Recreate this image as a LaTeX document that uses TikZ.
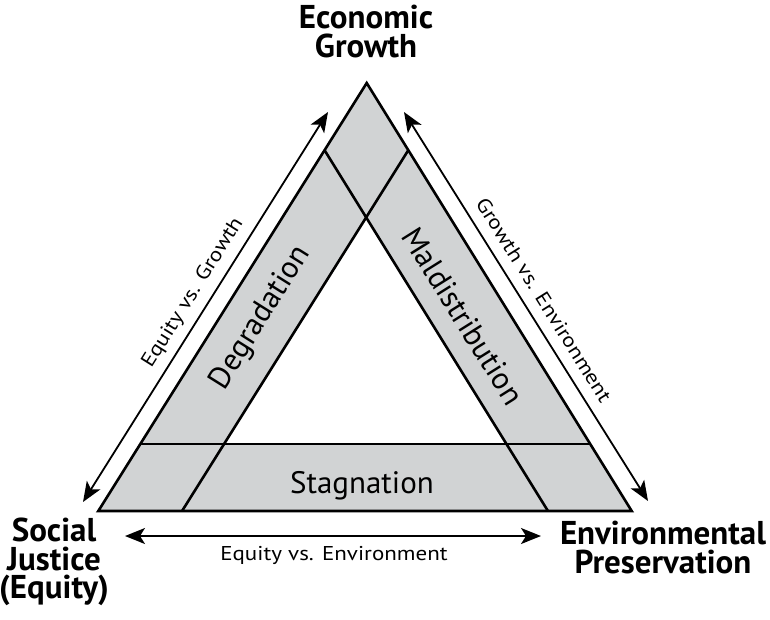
\documentclass[tikz,border=0pt]{standalone}
\usepackage{fontspec}
\setmainfont{PT Sans}
\newfontfamily\tradefont{PT Sans}[FakeStretch=1.15]
\usetikzlibrary{arrows.meta,calc}
\definecolor{bandgray}{RGB}{209,211,212}

\begin{document}
\begin{tikzpicture}[x=1pt,y=-1pt,
  corner/.style={font=\fontsize{33}{28.5}\selectfont\bfseries,align=center,inner sep=0pt,anchor=north},
  zone/.style={font=\fontsize{31}{34}\selectfont},
  tradeoff/.style={font=\fontsize{20}{22}\tradefont},
  rim/.style={line width=2.6pt},
  pull/.style={line width=1.8pt,{Stealth[length=20pt,width=16pt,inset=5pt]}-{Stealth[length=20pt,width=16pt,inset=5pt]}}]
\useasboundingbox (0,0) rectangle (770,619);

\coordinate (A) at (366.7,83);
\coordinate (B) at (98.3,511);
\coordinate (C) at (631.7,511);

% bands
\fill[bandgray] (A) -- (B) -- (C) -- cycle;
\fill[white] ($0.686*(A)+0.157*(B)+0.157*(C)$) -- ($0.157*(A)+0.686*(B)+0.157*(C)$)
  -- ($0.157*(A)+0.157*(B)+0.686*(C)$) -- cycle;
\draw[rim] ($(B)!0.157!(A)$) -- ($(C)!0.157!(A)$);
\draw[rim] ($(B)!0.157!(C)$) -- ($(A)!0.157!(C)$);
\draw[rim] ($(C)!0.157!(B)$) -- ($(A)!0.157!(B)$);
\draw[rim] (A) -- (B) -- (C) -- cycle;

\node[zone,rotate=57.9] (degr) at (261,318) {Degradation};
\node[zone,rotate=-57.9] (maldist) at (463,316) {Maldistribution};
\node[zone,anchor=base] (stag) at (362,493) {Stagnation};

% corners
\node[corner] (growth) at (366,5) {Economic\\Growth};
\node[corner] (equity) at (54,518) {Social\\Justice\\(Equity)};
\node[corner] (environ) at (663,521) {Environmental\\Preservation};

% trade-offs
\coordinate (eg1) at (328,112);
\coordinate (eg2) at (83,502);
\coordinate (ge1) at (404,112);
\coordinate (ge2) at (648,501);
\coordinate (ee1) at (125,536);
\coordinate (ee2) at (541,536);
\draw[pull] (eg1) -- (eg2);
\draw[pull] (ge1) -- (ge2);
\draw[pull] (ee1) -- (ee2);

\node[tradeoff,rotate=57.9] (eqgr) at (193,293) {Equity vs. Growth};
\node[tradeoff,rotate=-57.9] (grenv) at (544,300) {Growth vs. Environment};
\node[tradeoff,anchor=base] (eqenv) at (334,560) {Equity vs. Environment};
\end{tikzpicture}
\end{document}
